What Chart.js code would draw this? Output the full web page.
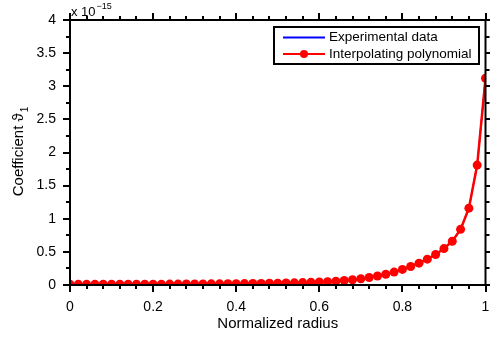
<!DOCTYPE html>
<html>
<head>
<meta charset="utf-8">
<script src="https://cdn.jsdelivr.net/npm/chart.js@4/dist/chart.umd.min.js"></script>
<style>
  html, body { margin: 0; padding: 0; background: #fff; }
  #wrap { width: 490px; height: 339px; }
</style>
</head>
<body>
<div id="wrap"><canvas id="chart" width="490" height="339"></canvas></div>
<script>
// normalized radius, step 0.02
const radius = [
  0.00, 0.02, 0.04, 0.06, 0.08, 0.10, 0.12, 0.14, 0.16, 0.18,
  0.20, 0.22, 0.24, 0.26, 0.28, 0.30, 0.32, 0.34, 0.36, 0.38,
  0.40, 0.42, 0.44, 0.46, 0.48, 0.50, 0.52, 0.54, 0.56, 0.58,
  0.60, 0.62, 0.64, 0.66, 0.68, 0.70, 0.72, 0.74, 0.76, 0.78,
  0.80, 0.82, 0.84, 0.86, 0.88, 0.90, 0.92, 0.94, 0.96, 0.98, 1.00
];

// coefficient, in units of 1e-15
const experimental = [
  0.010, 0.010, 0.010, 0.010, 0.011, 0.011, 0.011, 0.012, 0.012, 0.012,
  0.013, 0.013, 0.014, 0.014, 0.015, 0.015, 0.016, 0.017, 0.018, 0.019,
  0.020, 0.021, 0.022, 0.024, 0.026, 0.028, 0.030, 0.033, 0.036, 0.040,
  0.045, 0.050, 0.058, 0.068, 0.080, 0.095, 0.113, 0.135, 0.162, 0.195,
  0.235, 0.280, 0.330, 0.390, 0.460, 0.550, 0.660, 0.840, 1.160, 1.810, 3.120
];
const polynomial = [
  0.010, 0.010, 0.010, 0.010, 0.011, 0.011, 0.011, 0.012, 0.012, 0.012,
  0.013, 0.013, 0.014, 0.014, 0.015, 0.015, 0.016, 0.017, 0.018, 0.019,
  0.020, 0.021, 0.022, 0.024, 0.026, 0.028, 0.030, 0.033, 0.036, 0.040,
  0.045, 0.050, 0.058, 0.068, 0.080, 0.095, 0.113, 0.135, 0.162, 0.195,
  0.235, 0.280, 0.330, 0.390, 0.460, 0.550, 0.660, 0.840, 1.160, 1.810, 3.120
];

const xTicks = [0, 0.2, 0.4, 0.6, 0.8, 1];
const yTicks = [0, 0.5, 1, 1.5, 2, 2.5, 3, 3.5, 4];
const seriesNames = ['Experimental data', 'Interpolating polynomial'];

const FONT = '"Liberation Sans", Arial, sans-serif';

// frame, outward ticks, exponent label, y title and boxed legend
const matlabFrame = {
  id: 'matlabFrame',
  afterDraw(chart) {
    const { ctx, chartArea: a, scales } = chart;
    const xs = scales.x, ys = scales.y;
    ctx.save();
    ctx.strokeStyle = '#000';
    ctx.lineWidth = 2;
    ctx.strokeRect(a.left, a.top, a.right - a.left, a.bottom - a.top);

    ctx.beginPath();
    for (let i = 0; i <= 25; i++) {
      const v = i * 0.04;
      const px = Math.round(xs.getPixelForValue(v));
      const len = i % 5 === 0 ? 7 : 4;
      ctx.moveTo(px, a.bottom); ctx.lineTo(px, a.bottom + len);
      ctx.moveTo(px, a.top); ctx.lineTo(px, a.top - len);
    }
    for (let i = 0; i <= 16; i++) {
      const v = i * 0.25;
      const py = Math.round(ys.getPixelForValue(v));
      const len = i % 2 === 0 ? 7 : 4;
      ctx.moveTo(a.left, py); ctx.lineTo(a.left - len, py);
      ctx.moveTo(a.right, py); ctx.lineTo(a.right + len, py);
    }
    ctx.stroke();

    // exponent
    ctx.fillStyle = '#000';
    ctx.textBaseline = 'alphabetic';
    ctx.textAlign = 'left';
    ctx.font = '13px ' + FONT;
    ctx.fillText('x 10', a.left + 1, 16);
    const w = ctx.measureText('x 10').width;
    ctx.font = '9px ' + FONT;
    ctx.fillText('\u221215', a.left + 2 + w, 9);

    // y title with subscript
    ctx.translate(23, 152);
    ctx.rotate(-Math.PI / 2);
    ctx.font = '15px ' + FONT;
    const main = 'Coefficient \u03d1';
    const mw = ctx.measureText(main).width;
    ctx.font = '10px ' + FONT;
    const sw = ctx.measureText('1').width;
    const start = -(mw + sw) / 2;
    ctx.font = '15px ' + FONT;
    ctx.fillText(main, start, 0);
    ctx.font = '10px ' + FONT;
    ctx.fillText('1', start + mw + 1, 5);
    ctx.restore();

    // legend
    ctx.save();
    ctx.strokeStyle = '#000';
    ctx.lineWidth = 2;
    ctx.fillStyle = '#fff';
    ctx.fillRect(274, 27, 205, 37);
    ctx.strokeRect(274, 27, 205, 37);
    ctx.strokeStyle = '#0000ff';
    ctx.beginPath(); ctx.moveTo(283, 37.5); ctx.lineTo(325, 37.5); ctx.stroke();
    ctx.strokeStyle = '#ff0000';
    ctx.beginPath(); ctx.moveTo(283, 54); ctx.lineTo(325, 54); ctx.stroke();
    ctx.fillStyle = '#ff0000';
    ctx.beginPath(); ctx.arc(304, 54, 4, 0, Math.PI * 2); ctx.fill();
    ctx.fillStyle = '#000';
    ctx.font = '13.5px ' + FONT;
    ctx.textBaseline = 'middle';
    ctx.fillText(seriesNames[0], 329, 37.5);
    ctx.fillText(seriesNames[1], 329, 54);
    ctx.restore();
  }
};

new Chart(document.getElementById('chart'), {
  type: 'line',
  data: {
    labels: radius,
    datasets: [
      {
        label: seriesNames[0],
        data: radius.map((r, i) => ({ x: r, y: experimental[i] })),
        borderColor: '#0000ff',
        borderWidth: 1.5,
        pointRadius: 0,
        tension: 0,
        order: 2
      },
      {
        label: seriesNames[1],
        data: radius.map((r, i) => ({ x: r, y: polynomial[i] })),
        borderColor: '#ff0000',
        backgroundColor: '#ff0000',
        borderWidth: 2.5,
        pointRadius: 4.5,
        pointBorderWidth: 0,
        tension: 0,
        order: 1
      }
    ]
  },
  options: {
    responsive: false,
    animation: false,
    layout: { padding: { top: 20, right: 4, left: 0, bottom: 0 } },
    plugins: {
      legend: { display: false },
      tooltip: { enabled: false }
    },
    scales: {
      x: {
        type: 'linear',
        min: 0,
        max: 1,
        afterBuildTicks: s => { s.ticks = xTicks.map(v => ({ value: v })); },
        afterFit: s => { s.height = 54; s.paddingRight = 0; s.paddingLeft = 0; },
        grid: { display: false },
        border: { display: false },
        ticks: {
          color: '#000',
          font: { size: 14, family: FONT },
          padding: 6,
          maxRotation: 0,
          callback: v => String(v)
        },
        title: {
          display: true,
          text: 'Normalized radius',
          color: '#000',
          font: { size: 15, family: FONT },
          padding: { top: 0, bottom: 6 }
        }
      },
      y: {
        type: 'linear',
        min: 0,
        max: 4,
        afterBuildTicks: s => { s.ticks = yTicks.map(v => ({ value: v })); },
        afterFit: s => { s.width = 70; s.paddingTop = 0; s.paddingBottom = 0; },
        grid: { display: false },
        border: { display: false },
        ticks: {
          color: '#000',
          font: { size: 14, family: FONT },
          padding: 6,
          callback: v => String(v)
        }
      }
    }
  },
  plugins: [matlabFrame]
});
</script>
</body>
</html>
